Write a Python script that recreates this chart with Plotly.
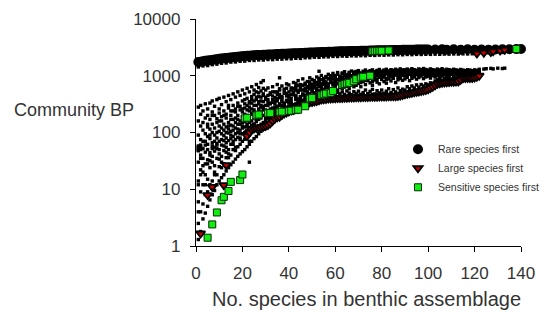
import plotly.graph_objects as go

# ---------------- data ----------------
# "Rare species first" series (black circles)
rare_x = list(range(1, 101)) + [103, 106, 108, 111, 114, 117, 120, 123, 126, 129, 132, 135, 138, 140]
rare_y = [1750, 1770, 1800, 1830, 1850, 1880, 1900, 1930, 1960, 1990,
          2010, 2040, 2060, 2080, 2100, 2120, 2140, 2160, 2180, 2200,
          2220, 2240, 2260, 2280, 2300, 2310, 2320, 2330, 2340, 2350,
          2360, 2370, 2380, 2395, 2410, 2420, 2430, 2440, 2450, 2460,
          2470, 2480, 2490, 2500, 2510, 2520, 2540, 2550, 2560, 2570,
          2580, 2590, 2600, 2610, 2620, 2630, 2640, 2650, 2660, 2670,
          2680, 2690, 2700, 2700, 2710, 2720, 2720, 2730, 2740, 2740,
          2750, 2760, 2760, 2770, 2780, 2780, 2790, 2800, 2800, 2810,
          2810, 2820, 2820, 2830, 2840, 2840, 2850, 2850, 2860, 2860,
          2870, 2870, 2880, 2880, 2890, 2890, 2900, 2900, 2900, 2910,
          2900, 2930, 2880, 2920, 2870, 2930, 2880, 2900, 2880, 2910, 2920, 2930, 2950, 2960]

# "Large species first" series (red triangles)
large_x = [2, 5, 7, 12, 13] + list(range(22, 123)) + [121, 124, 127, 128, 131, 133]
large_y = [1.66, 7.9, 11, 11.8, 26.7,
           87, 100, 114, 118, 120, 122, 124, 126, 130, 135,
           145, 160, 175, 185, 190, 204, 215, 225, 235, 245,
           250, 265, 280, 295, 310, 325, 335, 340, 345, 350,
           360, 370, 380, 385, 390, 395, 398, 400, 402, 404,
           405, 407, 410, 410, 412, 414, 415, 417, 418, 419,
           420, 422, 424, 425, 426, 427, 428, 429, 430, 431,
           432, 433, 434, 435, 436, 440, 448, 458, 470, 480,
           490, 500, 510, 520, 530, 540, 550, 560, 580, 610,
           640, 680, 720, 740, 750, 760, 770, 775, 780, 785,
           790, 795, 850, 900, 910, 912, 914, 916, 930, 960, 1000,
           2460, 2550, 2630, 2700, 2780, 2860]

# "Sensitive species first" series (green squares)
sens_x = [5, 7, 9, 11, 12, 14, 15, 19, 20,
          21, 22, 26, 27, 31, 32, 36, 37, 40, 41, 43, 44, 47, 49, 50,
          54, 55, 56, 58, 59, 63, 64, 65, 66, 68, 69, 71, 72, 75,
          76, 77, 78, 79, 80, 83, 138]
sens_y = [1.4, 2.4, 3.9, 6.4, 7.35, 9.3, 13.5, 14.5, 18.2,
          178, 182, 200, 207, 219, 220, 228, 233, 240, 242, 248, 252, 290, 395, 405,
          455, 470, 485, 500, 540, 690, 715, 730, 750, 800, 870, 930, 960, 1000,
          2700, 2720, 2740, 2750, 2760, 2790, 2960]

# random assemblages, few species (x = 1..29): small dots
early_x = list(range(1, 30))
E1 = [1.3, 1.8, 3, 3.8, 5, 6.5, 8, 9.5, 12, 14, 16, 18, 21, 24, 27, 30, 34, 38, 42, 46, 50, 56, 62, 70, 78, 85, 95, 105, 115]
E2 = [2.5, 4, 5.5, 8, 9, 12, 14, 20, 18, 25, 30, 28, 36, 42, 40, 50, 48, 56, 62, 70, 76, 85, 90, 100, 110, 120, 130, 140, 150]
E3 = [6, 9, 12, 18, 15, 24, 30, 26, 35, 42, 38, 48, 55, 50, 62, 70, 75, 82, 80, 95, 100, 110, 120, 135, 140, 155, 170, 180, 200]
E4 = [14, 22, 26, 28, 33, 40, 38, 47, 52, 50, 60, 58, 66, 72, 78, 85, 95, 100, 110, 120, 125, 140, 150, 160, 180, 195, 210, 230, 250]
E5 = [30, 40, 35, 45, 50, 44, 58, 55, 64, 70, 75, 88, 80, 98, 90, 110, 120, 115, 140, 130, 155, 170, 190, 210, 230, 220, 260, 280, 290]
E6 = [48, 60, 52, 70, 62, 78, 66, 90, 80, 105, 95, 110, 125, 115, 135, 130, 150, 170, 160, 190, 210, 200, 240, 260, 250, 300, 320, 300, 350]
E7 = [55, 75, 110, 95, 85, 115, 100, 120, 150, 130, 160, 140, 180, 150, 200, 170, 230, 200, 250, 230, 270, 300, 280, 330, 360, 380, 350, 420, 450]
E8 = [90, 130, 150, 180, 125, 170, 140, 200, 175, 220, 190, 240, 210, 270, 240, 300, 260, 330, 290, 360, 320, 400, 350, 430, 470, 420, 500, 540, 480]
E9 = [160, 210, 240, 320, 200, 330, 230, 290, 380, 260, 310, 420, 350, 300, 380, 480, 420, 520, 450, 560, 480, 600, 520, 640, 560, 700, 620, 760, 820]
E10 = [280, 300, None, None, 260, None, 360, None, None, 400, None, None, None, 450] + [None] * 15
E11 = [12, 35, 20, 60, 28, 90, 52, 70, 100, 34, 120, 72, 45, 130, 105, 62, 180, 140, 95, 260, 180, 130, 330, 220, 300, 170, 240, 360, 270]
E12 = [4, 18, 70, 12, 140, 32, 200, 18, 60, 160, 24, 200, 100, 36, 170, 240, 55, 290, 75, 150, 380, 250, 70, 380, 140, 520, 430, 200, 600]

# random assemblages, more species (x = 30..134): small dots
late_x = list(range(30, 135))
LA = [560, 610, 470, 640, 520, 700, 590, 660, 540, 720,
      690, 610, 760, 650, 820, 700, 880, 740, 790, 920,
      860, 780, 950, 830, 1010, 900, 970, 1060, 920, 1100,
      1010, 1140, 980, 1090, 1180, 1040, 1150, 1210, 1080, 1190,
      1230, 1120, 1200, 1260, 1150, 1230, 1270, 1180, 1240, 1290,
      1200, 1260, 1300, 1220, 1280, 1240, 1300, 1250, 1320, 1270,
      1240, 1310, 1260, 1330, 1280, 1250, 1320, 1270, 1340, 1290,
      1260, 1320, 1280, 1250, 1310, 1270, 1330, 1260, 1300, 1280,
      1250, 1300, 1270, 1240, 1290, 1260, 1230, 1280, 1250, 1220,
      1270, 1240, 1300, None, 1310, 1330, None, 1350, 1320, None, 1360, None, 1340, 1360, None]
LB = [420, 380, 500, 440, 360, 520, 470, 410, 580, 490,
      450, 560, 500, 620, 540, 600, 680, 570, 650, 720,
      640, 740, 690, 800, 720, 860, 780, 900, 830, 880,
      920, 850, 960, 900, 1000, 930, 1050, 970, 1080, 1010,
      1060, 990, 1100, 1040, 1130, 1070, 1020, 1150, 1090, 1170,
      1110, 1060, 1180, 1130, 1200, 1090, 1160, 1210, 1140, 1190,
      1150, 1210, 1100, 1190, 1230, 1160, 1200, 1120, 1220, 1180,
      1140, 1210, 1170, 1230, 1150, 1190, 1220, 1130, 1200, 1170,
      1210, 1150, 1180, 1120, 1190, 1160, 1140, 1200, 1170, 1130,
      1180, 1150, 1160] + [None] * 12
LC = [300, 340, 260, 380, 320, 290, 410, 350, 310, 440,
      370, 330, 460, 400, 510, 430, 480, 540, 460, 590,
      520, 610, 560, 650, 580, 700, 640, 720, 760, 690,
      780, 720, 830, 760, 880, 810, 740, 900, 850, 930,
      870, 950, 900, 830, 980, 920, 1000, 940, 870, 1020,
      960, 1040, 900, 1000, 1060, 980, 1030, 950, 1080, 1010,
      1050, 980, 1090, 1020, 960, 1070, 1000, 1100, 1040, 990,
      1080, 1020, 1110, 1050, 1000, 1090, 1060, 1120, 1030, 1080,
      1100, 1050, 1120, 1070, 1030, 1110, 1080, 1050, 1100, 1060,
      1090, 1120, 1080] + [None] * 12
LD = [210, 240, 190, 270, 230, 250, 300, 260, 330, 280,
      290, 350, 310, 380, 340, 420, 370, 450, 400, 480,
      430, 500, 470, 540, 490, 580, 520, 610, 560, 600,
      640, 560, 680, 600, 720, 650, 590, 700, 760, 680,
      730, 640, 790, 700, 820, 750, 680, 840, 770, 720,
      860, 790, 740, 880, 810, 900, 760, 850, 920, 830,
      880, 940, 820, 900, 960, 870, 930, 990, 890, 950,
      980, 910, 1000, 950, 1020, 940, 990, 1040, 970, 1010,
      1050, 990, 1030, 1060, 1000, 1070, 1040, 1010, 1080, 1050,
      1060, 1100, 1070] + [None] * 12
LE = [165, 180, 155, 200, 215, 205, 235, 225, 270, 250,
      275, 260, 300, 320, 310, 350, 340, 390, 365, 410,
      400, 430, 415, 460, 440, 480, 470, 510, 455, 490,
      470, 505, 480, 520, 468, 540, 495, 462, 525, 488,
      535, 470, 505, 560, 485, 530, 575, 478, 545, 500,
      560, 490, 535, 590, 505, 570, 520, 610, 545, 580,
      560, 640, 590, 660, 610, 690, 630, 700, 660, 720,
      690, 750, 720, 810, 850, 880, 830, 900, 870, 920,
      880, 930, 900, 950, 980, 1010, 1000, 1040, 990, 1030,
      1010, 1050, 1090] + [None] * 12
LF = [140, 128, 152, 170, 165, 190, 182, 215, 205, 240,
      245, 232, 262, 285, 270, 305, 320, 310, 350, 345,
      360, 352, 378, 372, 395, 388, 410, 402, 418, 412,
      425, 410, 432, 420, 440, 426, 445, 432, 450, 438,
      455, 440, 460, 446, 465, 450, 470, 456, 474, 460,
      478, 462, 482, 468, 486, 472, 490, 480, 500, 495,
      515, 505, 530, 520, 548, 538, 565, 555, 585, 575,
      610, 640, 670, 710, 760, 780, 790, 800, 810, 815,
      820, 830, 840, 850, 890, 940, 950, 955, 960, 970,
      980, 1030, 1050] + [None] * 12
LG = [250, 200, 320, 180, 280, 360, 210, 300, 240, 370,
      330, 400, 280, 440, 360, 380, 460, 400, 520, 430,
      560, 470, 600, 520, 660, 560, 620, 680, 590, 740,
      700, 860, 620, 940, 790, 700, 980, 870, 640, 1060,
      940, 760, 1020, 900, 1170, 970, 790, 1080, 1190, 940,
      1020, 1150, 860, 1100, 950, 1230, 1040, 1130, 890, 1150,
      1010, 1180, 1060, 1010, 1120, 1040, 1150, 1060, 1190, 1110,
      1190, 1100, 1030, 1170, 1080, 1140, 1050, 1190, 1120, 1150,
      1160, 1090, 1200, 1140, 1060, 1180, 1120, 1170, 1130, 1190,
      1140, 1200, 1170] + [None] * 12
LH = [380, 450, 330, 520, 410, 470, 560, 380, 490, 600,
      520, 470, 600, 560, 680, 620, 560, 700, 610, 780,
      700, 820, 760, 900, 850, 760, 940, 880, 1000, 960,
      860, 1060, 900, 1120, 1040, 960, 1100, 1010, 1160, 1070,
      1130, 1060, 960, 1180, 1090, 1010, 1160, 1120, 1200, 1060,
      1170, 1230, 1080, 1150, 1250, 1130, 1190, 1100, 1240, 1160,
      1270, 1120, 1180, 1250, 1090, 1210, 1160, 1260, 1130, 1230,
      1200, 1260, 1120, 1190, 1240, 1110, 1270, 1180, 1150, 1240,
      1180, 1230, 1100, 1200, 1250, 1130, 1210, 1170, 1240, 1190,
      1230, 1180, 1220] + [None] * 12
LI = [175, 300, 230, 340, 260, 400, 320, 430, 280, 350,
      420, 300, 520, 440, 390, 560, 460, 600, 520, 660,
      590, 660, 540, 720, 610, 790, 700, 640, 830, 750,
      800, 740, 880, 820, 760, 950, 860, 1000, 920, 840,
      980, 900, 1050, 940, 880, 1030, 960, 1080, 1000, 1110,
      1020, 950, 1090, 1040, 1120, 1000, 1150, 1060, 1010, 1120,
      1080, 1040, 1150, 1100, 1060, 1180, 1080, 1140, 1070, 1170,
      1110, 1060, 1150, 1100, 1180, 1070, 1130, 1090, 1170, 1120,
      1140, 1090, 1160, 1110, 1080, 1150, 1120, 1160, 1090, 1140,
      1110, 1160, 1130] + [None] * 12

# dots just below the "rare first" band
up_x = list(range(1, 121, 2))
up_y = [1430, 1490, 1510, 1570, 1600, 1660, 1680, 1740, 1750, 1800,
        1810, 1860, 1860, 1900, 1890, 1930, 1920, 1960, 1960, 1990,
        1990, 2030, 2020, 2070, 2080, 2120, 2110, 2150, 2150, 2190,
        2180, 2220, 2200, 2240, 2230, 2260, 2250, 2290, 2280, 2310,
        2300, 2330, 2320, 2350, 2340, 2370, 2350, 2380, 2370, 2390,
        2380, 2400, 2390, 2410, 2400, 2420, 2410, 2430, 2420, 2440]

# a few isolated dots
extra_x = [1, 1, 1, 2, 2, 23, 43, 53, 55, 36]
extra_y = [48, 53, 58, 50, 56, 30, 730, 1200, 770, 920]

legend_names = ["Rare species first", "Large species first", "Sensitive species first"]
x_ticks = [0, 20, 40, 60, 80, 100, 120, 140]
y_ticks = [1, 10, 100, 1000, 10000]
y_tick_text = ["1", "10", "100", "1000", "10000"]

# ---------------- figure ----------------
FONT = "Arial, Liberation Sans, sans-serif"
TXT = "#333333"

fig = go.Figure()

dot_style = dict(mode="markers", showlegend=False, hoverinfo="skip", cliponaxis=False,
                 marker=dict(symbol="square", size=3.4, color="black", line=dict(width=0)))

for ys in (E1, E2, E3, E4, E5, E6, E7, E8, E9, E10, E11, E12):
    fig.add_trace(go.Scatter(x=early_x, y=ys, **dot_style))
for ys in (LA, LB, LC, LD, LE, LF, LG, LH, LI):
    fig.add_trace(go.Scatter(x=late_x, y=ys, **dot_style))
fig.add_trace(go.Scatter(x=up_x, y=up_y, **dot_style))
fig.add_trace(go.Scatter(x=extra_x, y=extra_y, **dot_style))

fig.add_trace(go.Scatter(
    x=rare_x, y=rare_y, mode="markers", name=legend_names[0], cliponaxis=False,
    marker=dict(symbol="circle", size=10, color="black", line=dict(color="black", width=0))))
fig.add_trace(go.Scatter(
    x=large_x, y=large_y, mode="markers", name=legend_names[1], cliponaxis=False,
    marker=dict(symbol="triangle-down", size=8, color="#c80000", line=dict(color="black", width=1.8))))
fig.add_trace(go.Scatter(
    x=sens_x, y=sens_y, mode="markers", name=legend_names[2], cliponaxis=False,
    marker=dict(symbol="square", size=7, color="#10ee10", line=dict(color="#062a06", width=1))))

axis_common = dict(showline=True, linecolor="black", linewidth=1.3, ticks="outside",
                   ticklen=5, tickwidth=1.3, tickcolor="black", showgrid=False,
                   zeroline=False, tickfont=dict(family=FONT, size=17, color=TXT))

fig.update_layout(
    width=544, height=312,
    margin=dict(l=196, r=23, t=19, b=66, autoexpand=False),
    paper_bgcolor="white", plot_bgcolor="white",
    font=dict(family=FONT, color=TXT),
    xaxis=dict(range=[0, 140], tickvals=x_ticks, ticklabelstandoff=6, **axis_common),
    yaxis=dict(type="log", range=[0, 4], tickvals=y_ticks, ticktext=y_tick_text,
               ticklabelstandoff=6, **axis_common),
    legend=dict(x=0.6215, y=0.49, xanchor="left", yanchor="top", bgcolor="rgba(0,0,0,0)",
                font=dict(family=FONT, size=10.5, color=TXT), borderwidth=0),
    annotations=[
        dict(text="Community BP", xref="paper", yref="paper", x=-0.566, y=0.60,
             xanchor="left", yanchor="middle", showarrow=False,
             font=dict(family=FONT, size=18, color=TXT)),
        dict(text="No. species in benthic assemblage", xref="paper", yref="paper",
             x=0.5246, y=-0.233, xanchor="center", yanchor="middle", showarrow=False,
             font=dict(family=FONT, size=20, color=TXT)),
    ],
)

fig.write_html("out.html", config={"displayModeBar": False},
               post_script="document.body.style.margin='0';document.body.style.overflow='hidden';")
